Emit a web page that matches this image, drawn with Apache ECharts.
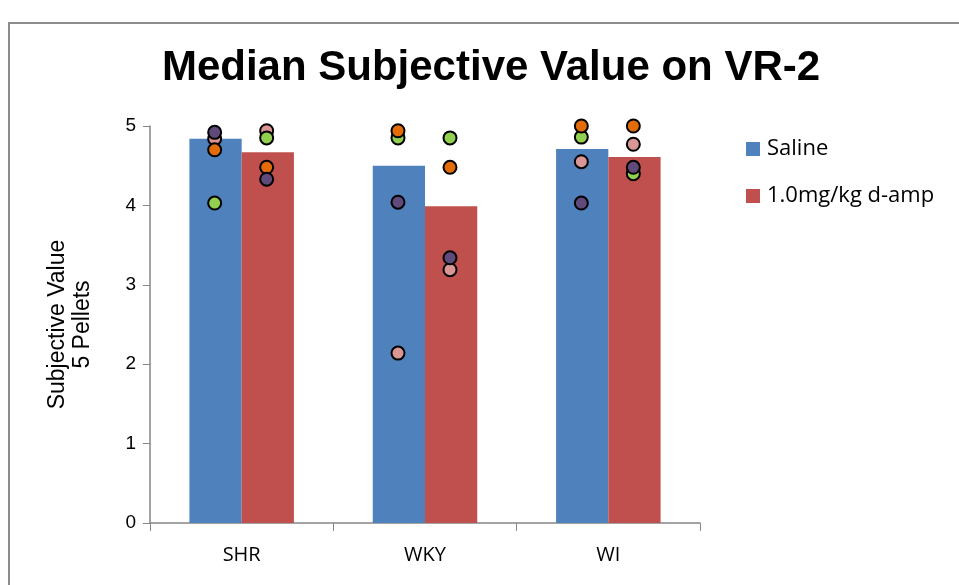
<!DOCTYPE html>
<html>
<head>
<meta charset="utf-8">
<script src="https://cdn.jsdelivr.net/npm/echarts@6/dist/echarts.min.js"></script>
<style>
  html, body { margin: 0; padding: 0; background: #fff; }
  #chart { width: 959px; height: 585px; }
</style>
</head>
<body>
<div id="chart"></div>
<script>
  var categories = ['SHR', 'WKY', 'WI'];
  var salineMedian = [4.84, 4.5, 4.71];
  var ampMedian = [4.67, 3.99, 4.61];

  // individual subjects (one colour per animal)
  var salinePink = [4.84, 2.14, 4.55];
  var salineGreen = [4.03, 4.85, 4.86];
  var salineOrange = [4.70, 4.94, 5.0];
  var salinePurple = [4.92, 4.04, 4.03];
  var ampPink = [4.94, 3.19, 4.77];
  var ampGreen = [4.85, 4.85, 4.40];
  var ampOrange = [4.48, 4.48, 5.0];
  var ampPurple = [4.33, 3.34, 4.48];

  var yTicks = [0, 1, 2, 3, 4, 5];

  var dotColors = {pink: '#d99694', green: '#92d050', orange: '#e36c09', purple: '#604a7b'};

  function dots(data, color, offset) {
    return {
      type: 'scatter',
      data: data,
      symbol: 'circle',
      symbolSize: 13,
      symbolOffset: [offset, 0],
      itemStyle: {color: color, borderColor: '#000', borderWidth: 2, opacity: 1},
      z: 5,
      silent: true
    };
  }

  var myChart = echarts.init(document.getElementById('chart'));
  myChart.setOption({
    animation: false,
    title: {
      text: 'Median Subjective Value on VR-2',
      left: 486,
      top: 42,
      textAlign: 'center',
      textStyle: {
        fontFamily: 'Liberation Sans, Arial, sans-serif',
        fontWeight: 'bold',
        fontSize: 42,
        color: '#000'
      }
    },
    graphic: [{
      type: 'rect',
      shape: {x: 9, y: 23, width: 980, height: 600},
      style: {fill: 'none', stroke: '#8c8c8c', lineWidth: 2},
      silent: true
    }],
    legend: {
      data: ['Saline', '1.0mg/kg d-amp'],
      orient: 'vertical',
      left: 741,
      top: 133,
      itemWidth: 14,
      itemHeight: 14,
      itemGap: 25,
      icon: 'rect',
      textStyle: {fontFamily: 'Open Sans, sans-serif', fontSize: 22, color: '#000', padding: [0, 0, 0, 2]}
    },
    grid: {left: 150, top: 126, width: 550, height: 397},
    xAxis: {
      type: 'category',
      data: categories,
      axisLine: {lineStyle: {color: '#868686', width: 1.5}},
      axisTick: {show: true, length: 8, lineStyle: {color: '#868686'}},
      axisLabel: {fontFamily: 'Open Sans, sans-serif', fontSize: 20, color: '#000', margin: 22}
    },
    yAxis: {
      type: 'value',
      min: 0,
      max: 5,
      interval: 1,
      name: 'Subjective Value\n5 Pellets',
      nameLocation: 'middle',
      nameGap: 55,
      nameTextStyle: {fontFamily: 'Liberation Sans, Arial, sans-serif', fontSize: 23, color: '#000', lineHeight: 25},
      axisLine: {show: true, lineStyle: {color: '#868686', width: 1.5}},
      axisTick: {show: true, length: 7, lineStyle: {color: '#868686'}},
      axisLabel: {
        fontFamily: 'Liberation Sans, Arial, sans-serif', fontSize: 19, color: '#000', margin: 14,
        formatter: function (v) { return yTicks.indexOf(v) >= 0 ? String(v) : ''; }
      },
      splitLine: {show: false}
    },
    series: [
      {name: 'Saline', type: 'bar', data: salineMedian, barGap: '0%', barCategoryGap: '43%',
        itemStyle: {color: '#4f81bd'}},
      {name: '1.0mg/kg d-amp', type: 'bar', data: ampMedian,
        itemStyle: {color: '#c0504d'}},
      dots(salinePink, dotColors.pink, -27),
      dots(salineGreen, dotColors.green, -27),
      dots(salineOrange, dotColors.orange, -27),
      dots(salinePurple, dotColors.purple, -27),
      dots(ampPink, dotColors.pink, 25),
      dots(ampGreen, dotColors.green, 25),
      dots(ampOrange, dotColors.orange, 25),
      dots(ampPurple, dotColors.purple, 25)
    ]
  });
</script>
</body>
</html>
